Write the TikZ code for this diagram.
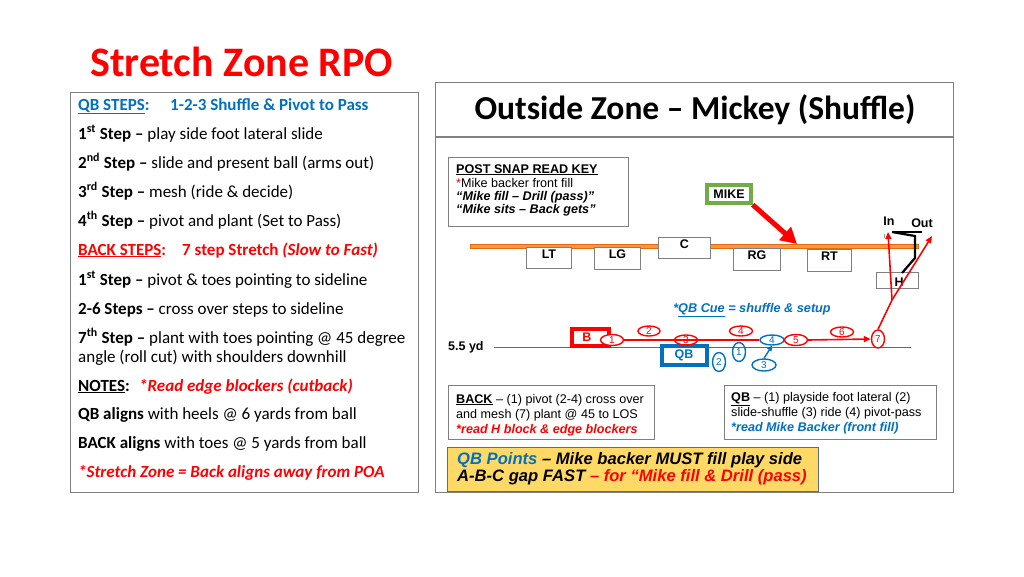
\documentclass[tikz,border=0pt]{standalone}
\usepackage{fontspec}
\setmainfont{Carlito}
\newfontfamily\arial{Liberation Sans}
\usetikzlibrary{arrows.meta,shapes.geometric}
\definecolor{tred}{RGB}{255,0,0}
\definecolor{tblue}{RGB}{0,112,192}
\definecolor{boxgray}{RGB}{128,128,128}
\definecolor{orng}{RGB}{247,150,70}
\definecolor{orngd}{RGB}{228,108,10}
\definecolor{mgreen}{RGB}{112,173,71}
\definecolor{ylw}{RGB}{255,217,102}
\definecolor{ylwborder}{RGB}{90,110,140}
\begin{document}
\begin{tikzpicture}[x=1pt,y=-1pt,
  lt/.style={anchor=base west,inner sep=0pt,font=\fontsize{17}{20}\selectfont},
  dt/.style={anchor=base west,inner sep=0pt,font=\arial\fontsize{12.6}{14}\selectfont},
  yt/.style={anchor=base west,inner sep=0pt,font=\arial\fontsize{16.6}{18}\bfseries\itshape},
  panel/.style={draw=boxgray,line width=1.1pt},
  smallbox/.style={draw=boxgray,line width=0.9pt,fill=white},
  lineman/.style={draw=boxgray,line width=0.9pt,fill=white},
  mlabel/.style={inner sep=0pt,font=\arial\fontsize{12.5}{14}\bfseries},
  rnum/.style={draw=tred,line width=1.4pt,ellipse,inner sep=0pt,text=tred,font=\arial\fontsize{10}{11}\selectfont},
  bnum/.style={draw=tblue,line width=1.4pt,ellipse,inner sep=0pt,text=tblue,font=\arial\fontsize{10}{11}\selectfont},
  rarrow/.style={draw=tred,line width=1.6pt,-{Triangle[length=7pt,width=6pt]}},
]
\useasboundingbox (0,0) rectangle (1024,576);

% ---------- Title ----------
\node[anchor=base west,inner sep=0pt,text=tred,font=\fontsize{42}{45}\bfseries] (title) at (90,76) {Stretch Zone RPO};

% ---------- Left panel ----------
\node[panel,minimum width=348pt,minimum height=400pt,anchor=north west,inner sep=0pt] (lpanel) at (70,92) {};
\node[lt,text=tblue] (l0) at (78,110) {\textbf{\underline{QB STEPS}:}};
\node[lt,text=tblue] (l0b) at (170,110) {\textbf{1-2-3 Shuffle \& Pivot to Pass}};
\node[lt] (l1) at (78,139) {\textbf{1\textsuperscript{st} Step –} play side foot lateral slide};
\node[lt] (l2) at (78,168) {\textbf{2\textsuperscript{nd} Step –} slide and present ball (arms out)};
\node[lt] (l3) at (78,197) {\textbf{3\textsuperscript{rd} Step –} mesh (ride \& decide)};
\node[lt] (l4) at (78,226) {\textbf{4\textsuperscript{th} Step –} pivot and plant (Set to Pass)};
\node[lt,text=tred] (l5) at (78,255) {\textbf{\underline{BACK STEPS}:}};
\node[lt,text=tred] (l5b) at (182,255) {\textbf{7 step Stretch \textit{(Slow to Fast)}}};
\node[lt] (l6) at (78,285) {\textbf{1\textsuperscript{st} Step –} pivot \& toes pointing to sideline};
\node[lt] (l7) at (78,314) {\textbf{2-6 Steps –} cross over steps to sideline};
\node[lt] (l8) at (78,343) {\textbf{7\textsuperscript{th} Step –} plant with toes pointing @ 45 degree};
\node[lt] (l8b) at (78,362) {angle (roll cut) with shoulders downhill};
\node[lt] (l9) at (78,391) {\textbf{\underline{NOTES}:}};
\node[lt,text=tred] (l9b) at (139,391) {\textbf{\textit{*Read edge blockers (cutback)}}};
\node[lt] (l10) at (78,419) {\textbf{QB aligns} with heels @ 6 yards from ball};
\node[lt] (l11) at (78,448) {\textbf{BACK aligns} with toes @ 5 yards from ball};
\node[lt,text=tred] (l12) at (78,477) {\textbf{\textit{*Stretch Zone = Back aligns away from POA}}};

% ---------- Right panel ----------
\node[panel,minimum width=518pt,minimum height=410pt,anchor=north west,inner sep=0pt] (rpanel) at (435,82) {};
\coordinate (hl) at (435,137);
\coordinate (hr) at (953,137);
\draw[boxgray,line width=1.1pt] (hl) -- (hr);
\node[inner sep=0pt,anchor=base,font=\fontsize{33.5}{36}\bfseries] (rtitle) at (695,119) {Outside Zone – Mickey (Shuffle)};

% Post snap read key
\node[smallbox,minimum width=180pt,minimum height=69pt,anchor=north west,inner sep=0pt] (keybox) at (448,157) {};
\node[dt] (k1) at (456,173) {\textbf{\underline{POST SNAP READ KEY}}};
\node[dt] (k2) at (456,187) {\textcolor{tred}{*}Mike backer front fill};
\node[dt] (k3) at (456,200) {\textbf{\textit{“Mike fill – Drill (pass)”}}};
\node[dt] (k4) at (456,213) {\textbf{\textit{“Mike sits – Back gets”}}};

% LOS bar
\node[draw=orngd,fill=orng,line width=0.6pt,minimum width=448pt,minimum height=4pt,inner sep=0pt,anchor=north west] (los) at (470,243.5) {};

% Linemen
\node[lineman,minimum width=45pt,minimum height=21pt,anchor=north west,inner sep=0pt] (LT) at (526,247) {};
\node[mlabel,anchor=north] at ([yshift=-3pt]LT.north) {LT};
\node[lineman,minimum width=46pt,minimum height=22pt,anchor=north west,inner sep=0pt] (LG) at (594,247) {};
\node[mlabel,anchor=north] at ([yshift=-3pt]LG.north) {LG};
\node[lineman,minimum width=52pt,minimum height=21pt,anchor=north west,inner sep=0pt] (C) at (658,237) {};
\node[mlabel,anchor=north] at ([yshift=-3pt]C.north) {C};
\node[lineman,minimum width=47pt,minimum height=22pt,anchor=north west,inner sep=0pt] (RG) at (733,248) {};
\node[mlabel,anchor=north] at ([yshift=-3pt]RG.north) {RG};
\node[lineman,minimum width=44pt,minimum height=22pt,anchor=north west,inner sep=0pt] (RT) at (807,249) {};
\node[mlabel,anchor=north] at ([yshift=-3pt]RT.north) {RT};
\node[lineman,minimum width=42pt,minimum height=16pt,anchor=north west,inner sep=0pt] (H) at (876,272) {};
\node[mlabel] at (899,282) {H};

% MIKE
\node[draw=mgreen,line width=3.5pt,fill=white,minimum width=44pt,minimum height=18pt,inner sep=0pt,font=\arial\fontsize{12.5}{14}\bfseries] (mike) at (729,194) {MIKE};
\coordinate (mtip) at (797,244);
\draw[draw=tred,line width=5pt,-{Triangle[length=16pt,width=17pt]}] (mike.south east) -- (mtip);

% In / Out
\node[inner sep=0pt,font=\arial\fontsize{12.5}{14}\bfseries] (in) at (889,221) {In};
\node[inner sep=0pt,font=\arial\fontsize{12.5}{14}\bfseries] (out) at (922,223) {Out};
\node[inner sep=0pt,font=\arial\fontsize{6}{7}\selectfont,text=black!70] (tt) at (885,237) {t};

% H block (black)
\coordinate (hb1) at (892,232);
\coordinate (hb2) at (922,232);
\coordinate (hb3) at (915,236);
\coordinate (hb4) at (915,258);
\coordinate (hb5) at (902,273);
\draw[black,line width=2.2pt] (hb1) -- (hb2);
\draw[black,line width=2.2pt] (hb1) -- (hb3) -- (hb4) -- (hb5);

% QB cue
\node[anchor=base,inner sep=0pt,text=tblue,font=\arial\fontsize{12.7}{14}\bfseries\itshape] (cue) at (752,312) {*\underline{QB Cue} = shuffle \& setup};

% 5.5 yd line
\node[anchor=base west,inner sep=0pt,font=\arial\fontsize{12.5}{14}\bfseries] (yd) at (448,350) {5.5 yd};
\coordinate (yl) at (494,347);
\coordinate (yr) at (911,347);
\draw[black!60,line width=0.8pt] (yl) -- (yr);

% Back box and QB box
\node[draw=tred,line width=4pt,minimum width=37pt,minimum height=17pt,inner sep=0pt,text=tred,font=\arial\fontsize{12.5}{14}\bfseries] (B) at (590,337) {\hspace*{-6pt}B};
\node[draw=tblue,line width=4pt,minimum width=45pt,minimum height=19pt,inner sep=0pt,text=tblue,font=\arial\fontsize{12.5}{14}\bfseries] (QB) at (684,355.5) {QB};

% Back steps
\node[rnum,fill=white,minimum width=23pt,minimum height=11pt] (r1) at (612,340) {1};
\node[rnum,minimum width=22pt,minimum height=10pt] (r2) at (649,331) {2};
\node[rnum,minimum width=23pt,minimum height=10pt] (r3) at (686,340) {3};
\node[rnum,minimum width=23pt,minimum height=10pt] (r4) at (741,331) {4};
\node[bnum,minimum width=24pt,minimum height=10pt] (b4) at (772,340) {4};
\node[rnum,minimum width=23pt,minimum height=11pt] (r5) at (796,340) {5};
\node[rnum,minimum width=23pt,minimum height=10pt] (r6) at (842,332) {6};
\node[rnum,minimum width=13pt,minimum height=18pt] (r7) at (878,339) {7};

\draw[draw=tred,line width=1.6pt] (r1.east) -- (b4.west);
\draw[rarrow] (r5.east) -- (r7.west);
\coordinate (J) at (892,300);
\coordinate (intip) at (888,232);
\coordinate (outtip) at (932,236);
\draw[draw=tred,line width=1.6pt] (r7.north) -- (J);
\draw[rarrow] (J) -- (outtip);
\draw[rarrow] (J) -- (intip);

% QB steps
\node[bnum,minimum width=13pt,minimum height=19pt] (b1) at (739,352) {1};
\node[bnum,minimum width=13pt,minimum height=19pt] (b2) at (719,362) {2};
\node[bnum,minimum width=24pt,minimum height=12pt] (b3) at (764,365) {3};
\draw[draw=tblue,line width=1.4pt,-{Triangle[length=5pt,width=5pt]}] (b3.north) -- (b4.south);

% Bottom boxes
\node[smallbox,minimum width=206pt,minimum height=54pt,anchor=north west,inner sep=0pt] (backbox) at (448,385) {};
\node[dt] (bk1) at (456,403) {\textbf{\underline{BACK}} – (1) pivot (2-4) cross over};
\node[dt] (bk2) at (456,418) {and mesh (7) plant @ 45 to LOS};
\node[dt,text=tred] (bk3) at (456,433) {\textbf{\textit{*read H block \& edge blockers}}};

\node[smallbox,minimum width=212pt,minimum height=54pt,anchor=north west,inner sep=0pt] (qbbox) at (724,385) {};
\node[dt] (q1) at (731,401) {\textbf{\underline{QB}} – (1) playside foot lateral (2)};
\node[dt] (q2) at (731,416) {slide-shuffle (3) ride (4) pivot-pass};
\node[dt,text=tblue] (q3) at (731,431) {\textbf{\textit{*read Mike Backer (front fill)}}};

\node[draw=ylwborder,fill=ylw,line width=0.9pt,minimum width=371pt,minimum height=44pt,anchor=north west,inner sep=0pt] (ybox) at (447,447) {};
\node[yt] (y1) at (457,464) {\textcolor{tblue}{QB Points} – Mike backer MUST fill play side};
\node[yt] (y2) at (457,481) {A-B-C gap FAST \textcolor{tred}{– for “Mike fill \& Drill (pass)}};

\end{tikzpicture}
\end{document}
